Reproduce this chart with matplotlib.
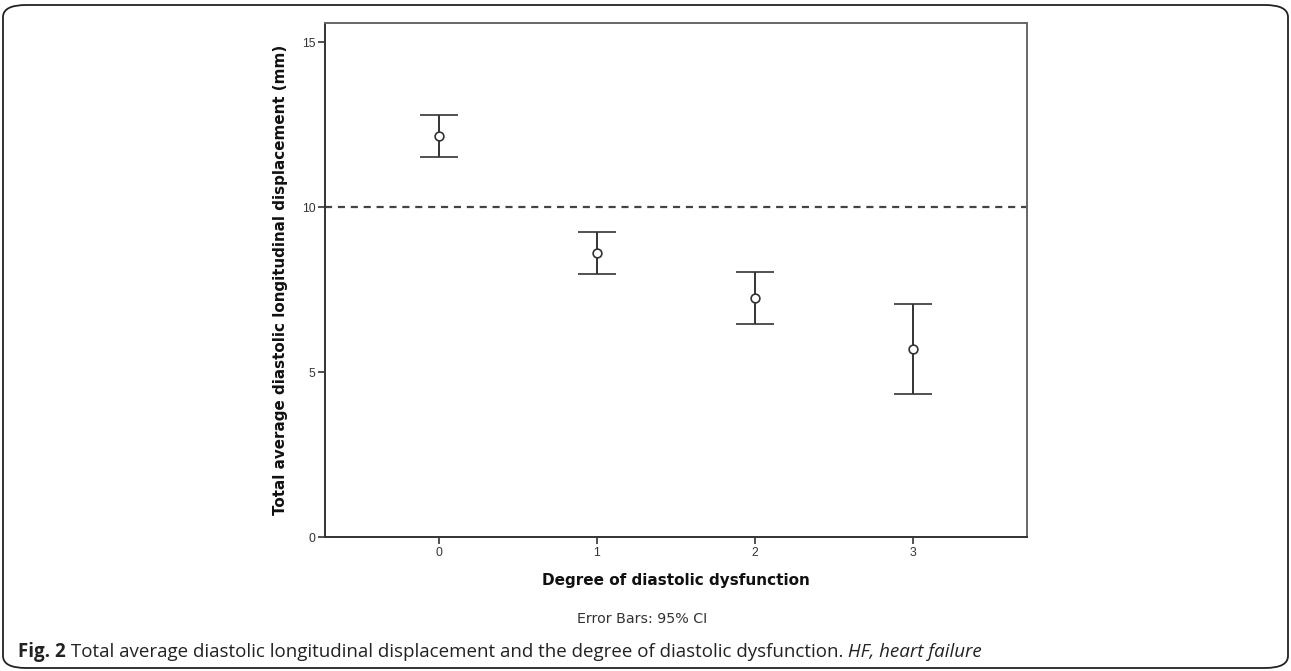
import matplotlib
matplotlib.use("Agg")
import matplotlib.pyplot as plt
from matplotlib.patches import FancyBboxPatch

# ---- data ----
categories = [0, 1, 2, 3]
means = [12.15, 8.61, 7.24, 5.70]
ci_lower = [11.52, 7.97, 6.45, 4.33]
ci_upper = [12.79, 9.24, 8.03, 7.06]
reference_value = 10
y_ticks = [0, 5, 10, 15]
x_tick_labels = ["0", "1", "2", "3"]

W, H = 1291, 671
fig = plt.figure(figsize=(W / 100, H / 100), dpi=100)

def fx(px):
    return px / W

def fy(py):
    return 1 - py / H

ax = fig.add_axes([fx(325), fy(537), fx(1027) - fx(325), fy(23) - fy(537)])

line_col = "#333333"
yerr = [[m - lo for m, lo in zip(means, ci_lower)],
        [hi - m for m, hi in zip(means, ci_upper)]]
ax.errorbar(categories, means, yerr=yerr, fmt="o", mfc="white", mec=line_col,
            mew=1.2, ms=6.3, ecolor=line_col, elinewidth=1.4, capsize=14,
            capthick=1.4, zorder=3)
ax.axhline(reference_value, color="#444444", lw=1.6, ls=(0, (3.2, 2.6)), zorder=2)

ax.set_xlim(-0.72, 3.72)
ax.set_ylim(0, 15.58)
ax.set_xticks(categories)
ax.set_xticklabels(x_tick_labels)
ax.set_yticks(y_ticks)
for side, s in ax.spines.items():
    s.set_color("#333333" if side in ("left", "bottom") else "#666666")
    s.set_linewidth(1.4)
ax.tick_params(axis="both", direction="out", length=5, width=1.3, color="#444444",
               labelsize=8.8, labelcolor="#333333", pad=2)
for lab in ax.get_xticklabels() + ax.get_yticklabels():
    lab.set_family(["Liberation Sans", "DejaVu Sans"])

# axis titles
fig.text(fx(280), fy(280), "Total average diastolic longitudinal displacement (mm)",
         rotation=90, ha="center", va="center", fontsize=10.9, fontweight="bold",
         family=["DejaVu Sans"], color="#111111")
fig.text(fx(676), fy(581), "Degree of diastolic dysfunction", ha="center", va="center",
         fontsize=11, fontweight="bold", family=["DejaVu Sans"], color="#111111")
fig.text(fx(642), fy(619), "Error Bars: 95% CI", ha="center", va="center",
         fontsize=10.3, family=["DejaVu Sans"], color="#333333")

# caption with mixed styles (font size fitted to the caption width)
fig.canvas.draw()
renderer = fig.canvas.get_renderer()
parts = [("Fig. 2", "bold", "normal"),
         (" Total average diastolic longitudinal displacement and the degree of diastolic dysfunction.", "normal", "normal"),
         (" HF, heart failure", "normal", "italic")]

def place(size, x0):
    texts = []
    x = x0
    for txt, wt, st in parts:
        t = fig.text(fx(x), fy(652), txt, ha="left", va="center", fontsize=size,
                     fontweight=wt, fontstyle=st, family=["Open Sans", "DejaVu Sans"],
                     color="#222222")
        bb = t.get_window_extent(renderer=renderer)
        x += bb.width
        texts.append(t)
    return texts, x - x0

base = 11
texts, width = place(base, 18)
for t in texts:
    t.remove()
size = base * 967 / width
place(size, 18)

# rounded outer border
border = FancyBboxPatch((fx(3), fy(668)), fx(1288) - fx(3), fy(5) - fy(668),
                        boxstyle="round,pad=0,rounding_size=0.018",
                        transform=fig.transFigure, fill=False,
                        edgecolor="#222222", lw=1.3)
fig.patches.append(border)

fig.savefig("out.png", dpi=100)
